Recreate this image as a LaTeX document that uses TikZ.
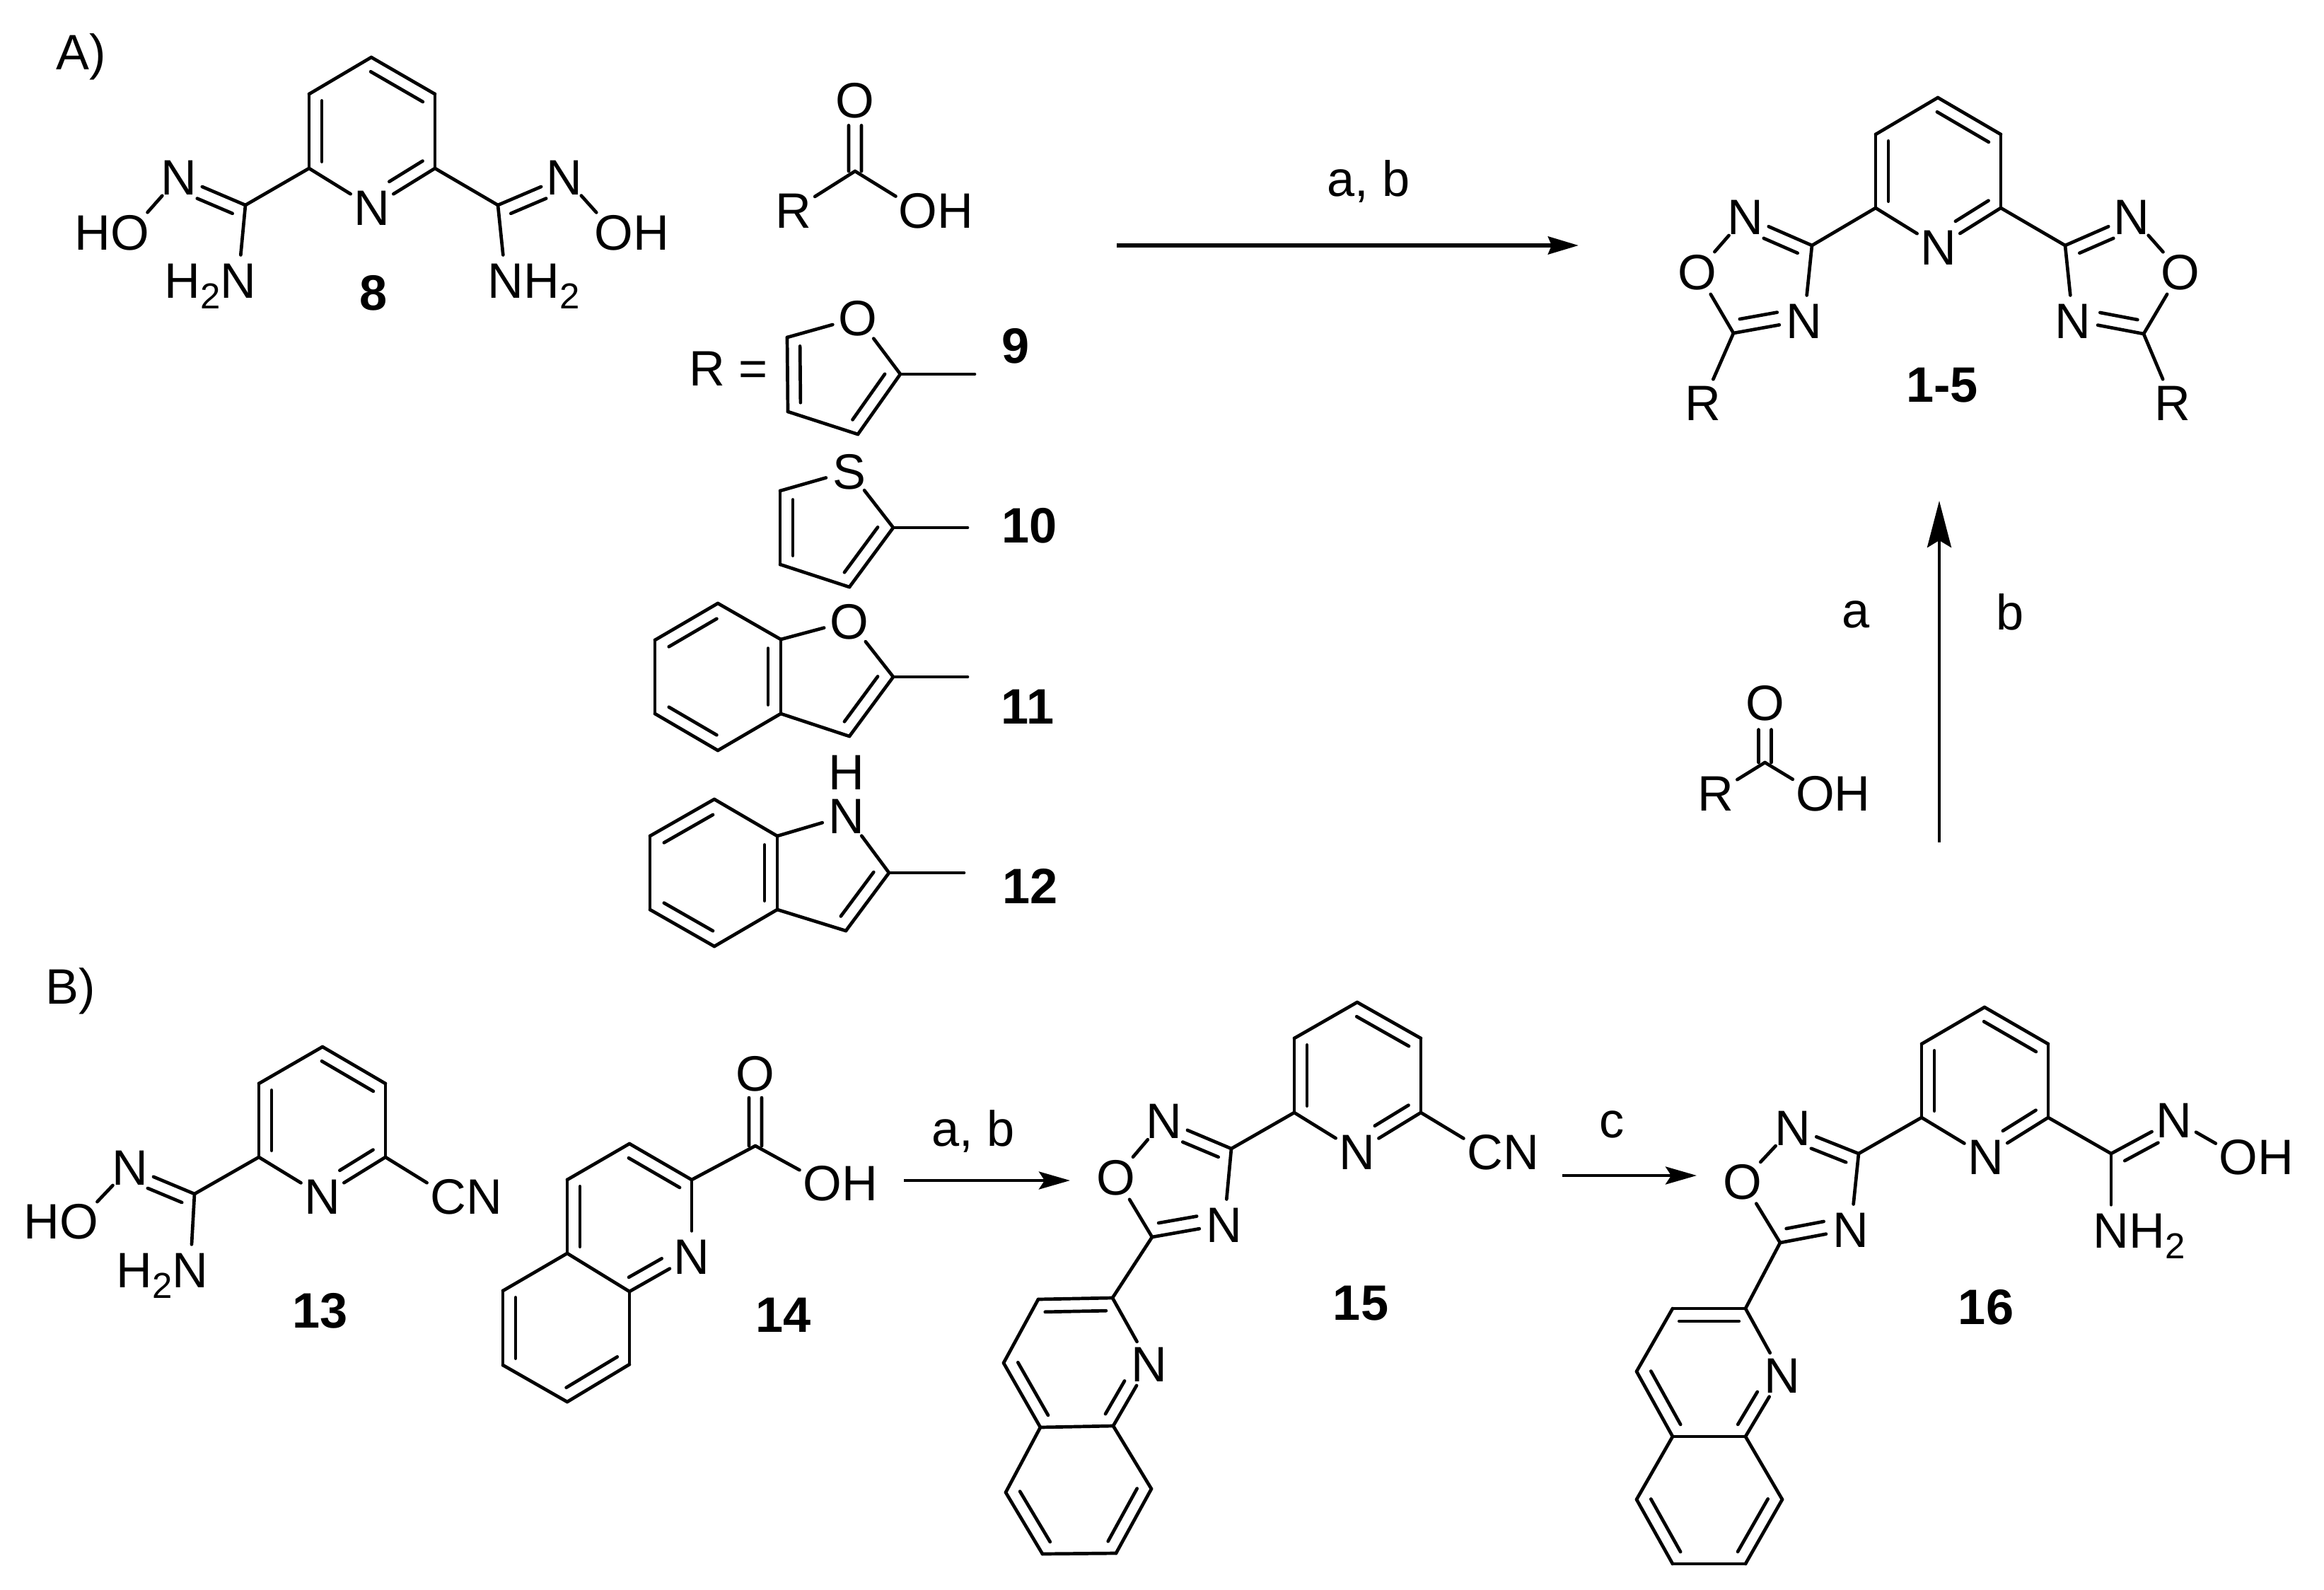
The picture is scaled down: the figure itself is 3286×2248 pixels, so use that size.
\documentclass[tikz,border=0pt]{standalone}
\usepackage{fontspec}
\setmainfont{Liberation Sans}
\usetikzlibrary{calc,arrows.meta}
\newcommand{\bondgap}{0.18cm}
\newcommand{\subtwo}{\raisebox{-4.5pt}{\fontsize{14.5}{16}\selectfont 2}}
\newcommand{\atoms}[1]{\foreach \n/\x/\y/\lab in {#1} {\node [atom] (\n) at (\x,\y) {\lab};}}
\newcommand{\points}[1]{\foreach \n/\x/\y in {#1} {\coordinate (\n) at (\x,\y);}}
\newcommand{\bonds}[1]{\foreach \u/\v in {#1} {\draw [bond] (\u) -- (\v);}}
\newcommand{\dbl}[4]{\draw [bond] ($(#1)!#3!(#2)!\bondgap!90:(#2)$) -- ($(#2)!#4!(#1)!\bondgap!-90:(#1)$);}
\newcommand{\dbls}[1]{\foreach \u/\v/\f/\g in {#1} {\dbl{\u}{\v}{\f}{\g}}}
\newcommand{\carbonyl}[3]{\draw [bond] ($(#1)!0.09cm!90:(#2)$) -- ($(#2)!#3!(#1)!0.09cm!-90:(#1)$);
    \draw [bond] ($(#1)!0.09cm!-90:(#2)$) -- ($(#2)!#3!(#1)!0.09cm!90:(#1)$);}
\tikzset{
    bond/.style = {draw, line width=0.047cm, line cap=round},
    atom/.style = {circle, inner sep=0pt, outer sep=0pt, text height=14.3pt, text depth=0pt},
    lbl/.style = {anchor=base, inner sep=0pt},
    cpd/.style = {lbl, font=\fontsize{20}{24}\selectfont\bfseries},
    rxn/.style = {draw, line width=0.044cm, -{Stealth[length=0.44cm,width=0.25cm,inset=0.08cm]}},
    rxnbig/.style = {draw, line width=0.055cm, -{Stealth[length=0.43cm,width=0.25cm,inset=0.05cm]}},
    rxnup/.style = {draw, line width=0.045cm, -{Stealth[length=0.66cm,width=0.34cm,inset=0.1cm]}}
}
\begin{document}
\begin{tikzpicture}[x=0.01cm,y=-0.01cm,font=\fontsize{20}{24}\selectfont]
    \useasboundingbox (0,0) rectangle (3286,2248);
    \node [lbl] (parta) at (115,98) {A)};
    \node [lbl] (partb) at (100,1419) {B)};

    \points{e8top/525/81,e8ul/437/133,e8ur/615/133,e8ll/437/238,e8lr/615/238,e8cl/347/290,e8cr/704/290}
    \atoms{e8n/526/293/N,e8nl/253/250/N,e8nr/798/250/N,e8ol/184/328/\llap{H}O,e8or/868/328/O\rlap{H},e8al/337/396/\llap{H\subtwo}N,e8ar/715/396/N\rlap{H\subtwo}}
    \bonds{e8top/e8ul,e8ul/e8ll,e8ll/e8n,e8n/e8lr,e8lr/e8ur,e8ur/e8top,e8ll/e8cl,e8lr/e8cr,e8cl/e8nl,e8cr/e8nr,e8nl/e8ol,e8nr/e8or,e8cl/e8al,e8cr/e8ar}
    \dbls{e8ul/e8ll/.09/.09,e8n/e8lr/.38/.09,e8ur/e8top/.09/.09,e8cl/e8nl/.12/.35,e8nr/e8cr/.35/.12}
    \node [cpd] (lab8) at (528,438) {8};

    \points{ac/1209/242}
    \atoms{ao/1209/141/O,ar/1122/297/R,aoh/1298/297/O\rlap{H}}
    \bonds{ac/ar,ac/aoh}
    \carbonyl{ac}{ao}{.36}

    \node [lbl] (req) at (1030,545) {R =};
    \points{f9ul/1113/477,f9ll/1114/582,f9c3/1213/614,f9c2/1273/529,f9end/1378/529}
    \atoms{f9o/1213/449/O}
    \bonds{f9o/f9ul,f9ul/f9ll,f9ll/f9c3,f9c3/f9c2,f9c2/f9o,f9c2/f9end}
    \dbls{f9ul/f9ll/.12/.12,f9c3/f9c2/.12/.12}
    \node [cpd] (lab9) at (1436,513) {9};

    \points{t10ul/1103/694,t10ll/1103/798,t10c3/1201/830,t10c2/1263/746,t10end/1368/746}
    \atoms{t10s/1201/666/S}
    \bonds{t10s/t10ul,t10ul/t10ll,t10ll/t10c3,t10c3/t10c2,t10c2/t10s,t10c2/t10end}
    \dbls{t10ul/t10ll/.12/.12,t10c3/t10c2/.12/.12}
    \node [cpd] (lab10) at (1456,767) {10};

    \points{b11a/1104/904,b11b/1104/1009,b11c3/1201/1041,b11c2/1263/957,b11end/1368/957,b11top/1015/853,b11ul/926/905,b11ll/926/1009,b11bot/1015/1061}
    \atoms{b11o/1201/878/O}
    \bonds{b11o/b11a,b11a/b11b,b11b/b11c3,b11c3/b11c2,b11c2/b11o,b11c2/b11end,b11a/b11top,b11top/b11ul,b11ul/b11ll,b11ll/b11bot,b11bot/b11b}
    \dbls{b11c3/b11c2/.12/.12,b11b/b11a/.12/.12,b11top/b11ul/.12/.12,b11ll/b11bot/.12/.12}
    \node [cpd] (lab11) at (1453,1023) {11};

    \points{i12a/1099/1182,i12b/1099/1286,i12c3/1196/1316,i12c2/1257/1234,i12end/1363/1234,i12top/1010/1130,i12ul/919/1182,i12ll/919/1286,i12bot/1010/1338}
    \atoms{i12n/1197/1153/N}
    \node [lbl] (i12h) at (1197,1116) {H};
    \bonds{i12n/i12a,i12a/i12b,i12b/i12c3,i12c3/i12c2,i12c2/i12n,i12c2/i12end,i12a/i12top,i12top/i12ul,i12ul/i12ll,i12ll/i12bot,i12bot/i12b}
    \dbls{i12c3/i12c2/.12/.12,i12b/i12a/.12/.12,i12top/i12ul/.12/.12,i12ll/i12bot/.12/.12}
    \node [cpd] (lab12) at (1457,1277) {12};

    \coordinate (topstart) at (1579,347);
    \coordinate (topend) at (2232,347);
    \draw [rxnbig] (topstart) -- (topend);
    \node [lbl] (condtop) at (1935,277) {a, b};

    \points{ptop/2740/138,pul/2652/190,pur/2829/190,pll/2652/294,plr/2829/294,lc3/2562/347,lc5/2451/471,rc3/2920/347,rc5/3031/472}
    \atoms{pn/2741/349/N,ln2/2468/306/N,lo/2400/384/O,ln4/2551/453/N,lr/2408/569/R,rn2/3014/306/N,ro/3083/384/O,rn4/2931/453/N,rr/3072/569/R}
    \bonds{ptop/pul,pul/pll,pll/pn,pn/plr,plr/pur,pur/ptop,pll/lc3,plr/rc3,lc3/ln2,ln2/lo,lo/lc5,lc5/ln4,ln4/lc3,lc5/lr,rc3/rn2,rn2/ro,ro/rc5,rc5/rn4,rn4/rc3,rc5/rr}
    \dbls{pul/pll/.09/.09,pn/plr/.38/.09,pur/ptop/.09/.09,lc3/ln2/.14/.35,lc5/ln4/.12/.35,rn2/rc3/.35/.14,rn4/rc5/.35/.12}
    \node [cpd] (lab15top) at (2746,568) {1-5};

    \coordinate (upstart) at (2742,1191);
    \coordinate (upend) at (2742,708);
    \draw [rxnup] (upstart) -- (upend);
    \node [lbl] (conda) at (2624,887) {a};
    \node [lbl] (condb) at (2842,890) {b};
    \points{bc/2495.5/1078}
    \atoms{bo/2495.5/993.6/O,br/2426/1121/R,boh/2566.5/1121/O\rlap{H}}
    \bonds{bc/br,bc/boh}
    \carbonyl{bc}{bo}{.45}

    \points{m13top/456/1480,m13ul/366/1532,m13ur/545/1532,m13ll/366/1636,m13lr/545/1636,m13c/275/1688}
    \atoms{m13n/456/1691/N,m13no/184/1650/N,m13o/112/1726/\llap{H}O,m13a/269/1795/\llap{H\subtwo}N,m13cn/634/1691/C\rlap{N}}
    \bonds{m13top/m13ul,m13ul/m13ll,m13ll/m13n,m13n/m13lr,m13lr/m13ur,m13ur/m13top,m13ll/m13c,m13c/m13no,m13no/m13o,m13c/m13a,m13lr/m13cn}
    \dbls{m13ul/m13ll/.09/.09,m13n/m13lr/.38/.09,m13ur/m13top/.09/.09,m13c/m13no/.12/.35}
    \node [cpd] (lab13) at (453,1877) {13};

    \points{q14c/1068/1620,q14c2/978/1668,q14c3/890/1617,q14c4/802/1668,q14c4a/802/1772,q14c8a/890/1826,q14c5/711/1825,q14c6/711/1930,q14c7/802/1982,q14c8/890/1929}
    \atoms{q14n/978/1776/N,q14o/1068/1517/O,q14oh/1163/1672/O\rlap{H}}
    \bonds{q14c2/q14c3,q14c3/q14c4,q14c4/q14c4a,q14c4a/q14c8a,q14c8a/q14n,q14n/q14c2,q14c4a/q14c5,q14c5/q14c6,q14c6/q14c7,q14c7/q14c8,q14c8/q14c8a,q14c2/q14c,q14c/q14oh}
    \dbls{q14c2/q14c3/.09/.09,q14c4/q14c4a/.09/.09,q14c8a/q14n/.09/.38,q14c5/q14c6/.09/.09,q14c7/q14c8/.09/.09}
    \carbonyl{q14c}{q14o}{.34}
    \node [cpd] (lab14) at (1108,1883) {14};

    \coordinate (midstart) at (1278,1669);
    \coordinate (midend) at (1513,1669);
    \draw [rxn] (midstart) -- (midend);
    \node [lbl] (condmid) at (1376,1620) {a, b};

    \points{x15top/1919/1417,x15ul/1830/1468,x15ur/2009/1468,x15ll/1830/1573,x15lr/2009/1573,x15c3/1741/1624,x15c5/1629/1749,x15q2/1573/1835,x15q3/1468/1837,x15q4/1419/1927,x15q4a/1471/2018,x15q8a/1574/2016,x15q5/1422/2110,x15q6/1474/2197,x15q7/1578/2196,x15q8/1628/2105}
    \atoms{x15n/1919/1628/N,x15cn/2100/1628/C\rlap{N},x15n2/1646/1584/N,x15o/1578/1664/O,x15n4/1731/1731/N,x15qn/1625/1928/N}
    \bonds{x15top/x15ul,x15ul/x15ll,x15ll/x15n,x15n/x15lr,x15lr/x15ur,x15ur/x15top,x15lr/x15cn,x15ll/x15c3,x15c3/x15n2,x15n2/x15o,x15o/x15c5,x15c5/x15n4,x15n4/x15c3,x15c5/x15q2,x15q2/x15q3,x15q3/x15q4,x15q4/x15q4a,x15q4a/x15q8a,x15q8a/x15qn,x15qn/x15q2,x15q4a/x15q5,x15q5/x15q6,x15q6/x15q7,x15q7/x15q8,x15q8/x15q8a}
    \dbls{x15ul/x15ll/.09/.09,x15n/x15lr/.38/.09,x15ur/x15top/.09/.09,x15c3/x15n2/.12/.35,x15c5/x15n4/.12/.35,x15q2/x15q3/.09/.09,x15q4/x15q4a/.09/.09,x15q8a/x15qn/.09/.38,x15q5/x15q6/.09/.09,x15q7/x15q8/.09/.09}
    \node [cpd] (lab15) at (1924,1866) {15};

    \coordinate (rightstart) at (2209,1662);
    \coordinate (rightend) at (2399,1662);
    \draw [rxn] (rightstart) -- (rightend);
    \node [lbl] (condright) at (2279,1608) {c};

    \points{y16top/2806/1424,y16ul/2717/1476,y16ur/2896/1476,y16ll/2717/1580,y16lr/2896/1580,y16c/2985/1631,y16c3/2628/1631,y16c5/2517/1757,y16q2/2468/1850,y16q3/2365/1850,y16q4/2314/1939,y16q4a/2365/2031,y16q8a/2468/2031,y16q5/2314/2120,y16q6/2365/2211,y16q7/2468/2211,y16q8/2520/2120}
    \atoms{y16n/2808/1635/N,y16no/3074/1583/N,y16oh/3165/1635/O\rlap{H},y16a/2985/1739/N\rlap{H\subtwo},y16n2/2535/1594/N,y16o/2464/1670/O,y16n4/2617/1738/N,y16qn/2520/1944/N}
    \bonds{y16top/y16ul,y16ul/y16ll,y16ll/y16n,y16n/y16lr,y16lr/y16ur,y16ur/y16top,y16lr/y16c,y16c/y16no,y16no/y16oh,y16c/y16a,y16ll/y16c3,y16c3/y16n2,y16n2/y16o,y16o/y16c5,y16c5/y16n4,y16n4/y16c3,y16c5/y16q2,y16q2/y16q3,y16q3/y16q4,y16q4/y16q4a,y16q4a/y16q8a,y16q8a/y16qn,y16qn/y16q2,y16q4a/y16q5,y16q5/y16q6,y16q6/y16q7,y16q7/y16q8,y16q8/y16q8a}
    \dbls{y16ul/y16ll/.09/.09,y16n/y16lr/.38/.09,y16ur/y16top/.09/.09,y16no/y16c/.35/.12,y16c3/y16n2/.12/.35,y16c5/y16n4/.12/.35,y16q2/y16q3/.09/.09,y16q4/y16q4a/.09/.09,y16q8a/y16qn/.09/.38,y16q5/y16q6/.09/.09,y16q7/y16q8/.09/.09}
    \node [cpd] (lab16) at (2808,1872) {16};
\end{tikzpicture}
\end{document}
